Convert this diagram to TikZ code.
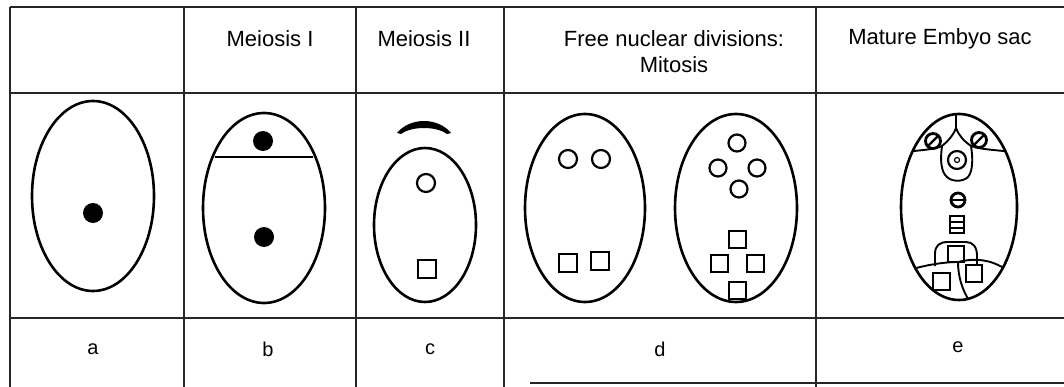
\documentclass[tikz,border=0pt]{standalone}
\usepackage{fontspec}
\setmainfont{Liberation Sans}
\begin{document}
\begin{tikzpicture}[x=1pt,y=-1pt,
  grid/.style={line width=1.9pt, draw=black!85},
  cell/.style={line width=2.6pt},
  ring/.style={line width=2.2pt},
  thin/.style={line width=1.9pt},
  hdr/.style={font=\fontsize{22}{26}\selectfont, align=center, inner sep=0pt},
  lbl/.style={font=\fontsize{20}{24}\selectfont, inner sep=0pt}]
\useasboundingbox (0,0) rectangle (1064,387);

% table rules
\draw[grid] (10,7) -- (1064,7);
\draw[grid] (10,93) -- (1064,93);
\draw[grid] (10,318) -- (1064,318);
\draw[grid] (530,383) -- (1064,383);
\foreach \x in {10,184,356,504,816} \draw[grid] (\x,7) -- (\x,387);

% column headings
\node[hdr] (h1) at (270,39) {Meiosis I};
\node[hdr] (h2) at (424,39) {Meiosis II};
\node[hdr] (h3) at (674,52) {Free nuclear divisions:\\Mitosis};
\node[hdr] (h4) at (940,39) {Mature Embyo sac};

% row labels
\node[lbl] (la) at (93,349) {a};
\node[lbl] (lb) at (268,349) {b};
\node[lbl] (lc) at (430,349) {c};
\node[lbl] (ld) at (660,349) {d};
\node[lbl] (le) at (958,347) {e};

% a: megaspore mother cell
\draw[cell] (93,196) ellipse [x radius=61pt, y radius=95pt];
\fill (93,213) circle[radius=10pt];

% b: meiosis I, dyad
\draw[cell] (264,208) ellipse [x radius=61pt, y radius=95pt];
\draw[cell] (215,157) -- (313,157);
\fill (263,141) circle[radius=10pt];
\fill (264,237) circle[radius=10pt];

% c: meiosis II, functional megaspore
\fill (397,133) .. controls (410,117) and (438,117) .. (451,133)
  -- (447,134) .. controls (436,126) and (412,126) .. (401,134) -- cycle;
\draw[cell] (425,225) ellipse [x radius=51pt, y radius=77pt];
\draw[ring] (426,183) circle[radius=9pt];
\draw[ring] (418,260) rectangle (436,278);

% d: two- and four-nucleate stages
\draw[cell] (585,208) ellipse [x radius=60pt, y radius=94pt];
\draw[ring] (568,159) circle[radius=9pt];
\draw[ring] (601,159) circle[radius=9pt];
\draw[ring] (559,254) rectangle (577,272);
\draw[ring] (591,252) rectangle (609,270);

\draw[cell] (736,208) ellipse [x radius=61pt, y radius=94pt];
\draw[ring] (737,143) circle[radius=8.5pt];
\draw[ring] (718,168) circle[radius=8.5pt];
\draw[ring] (757,168) circle[radius=8.5pt];
\draw[ring] (739,189) circle[radius=8.5pt];
\draw[ring] (729,231) rectangle (746,248);
\draw[ring] (711,255) rectangle (728,272);
\draw[ring] (747,255) rectangle (764,272);
\draw[ring] (729,282) rectangle (746,299);

% e: mature embryo sac
\begin{scope}
  \clip (959,207) ellipse [x radius=58pt, y radius=93pt];
  % filiform junction and synergid walls
  \draw[thin] (956,110) -- (956,128);
  \draw[thin] (898,153) .. controls (918,150) and (934,150) .. (942,146)
    .. controls (948,141) and (953,136) .. (956,128);
  \draw[thin] (1020,153) .. controls (1000,150) and (982,150) .. (971,146)
    .. controls (964,141) and (959,136) .. (956,128);
  % egg cell
  \draw[thin] (942,146) .. controls (940,160) and (941,172) .. (947,177)
    .. controls (952,182) and (963,182) .. (968,177)
    .. controls (973,171) and (973,158) .. (971,146);
  \draw[ring] (957,160) circle[radius=9pt];
  \draw[line width=1.2pt] (957,160) circle[radius=2.5pt];
  % synergid nuclei
  \draw[line width=2.8pt] (933,141) circle[radius=7.5pt];
  \draw[line width=2.4pt] (928,146) -- (938,136);
  \draw[line width=2.8pt] (979,140) circle[radius=7.5pt];
  \draw[line width=2.4pt] (974,145) -- (984,135);
  % polar nuclei
  \draw[line width=2.8pt] (958,200) circle[radius=7pt];
  \draw[line width=2.4pt] (951,200) -- (965,200);
  \draw[line width=2.6pt] (950,216) rectangle (964,233);
  \draw[line width=2pt] (950,222) -- (964,222);
  \draw[line width=2pt] (950,228) -- (964,228);
  % antipodal cells
  \draw[thin] (935,266) -- (935,254) .. controls (935,245) and (940,242) .. (948,242)
    -- (966,242) .. controls (973,242) and (977,247) .. (977,256) -- (977,265);
  \draw[ring] (948,246) rectangle (964,262);
  \draw[thin] (898,274) .. controls (915,267) and (940,262) .. (958,262)
    .. controls (958,276) and (962,290) .. (970,302);
  \draw[thin] (958,262) .. controls (970,259) and (985,258) .. (1000,266)
    -- (1020,274);
  \draw[ring] (933,273) rectangle (950,290);
  \draw[ring] (966,265) rectangle (982,282);
\end{scope}
\draw[cell] (959,207) ellipse [x radius=58pt, y radius=93pt];
\end{tikzpicture}
\end{document}
